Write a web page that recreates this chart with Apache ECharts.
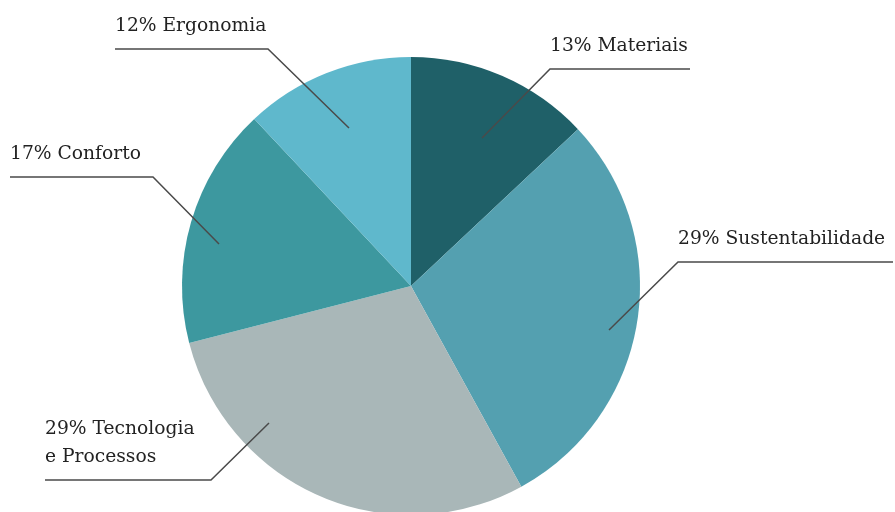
<!DOCTYPE html>
<html>
<head>
<meta charset="utf-8">
<script src="https://cdn.jsdelivr.net/npm/echarts@6/dist/echarts.min.js"></script>
<style>
  html, body { margin: 0; padding: 0; background: #ffffff; }
  #chart { width: 895px; height: 512px; }
</style>
</head>
<body>
<div id="chart"></div>
<script>
// Share of each theme, clockwise from 12 o'clock
const categories = ['Materiais', 'Sustentabilidade', 'Tecnologia\ne Processos', 'Conforto', 'Ergonomia'];
const shares = [13, 29, 29, 17, 12];
const sliceColors = ['#1f6068', '#54a0b0', '#a9b7b8', '#3d989f', '#5fb8cc'];

// Leader line geometry per slice: anchor inside the slice, elbow, and end of the
// horizontal rule the label sits on (pixels).
const leaderLines = [
  { anchor: [482, 138], elbow: [550, 69],  end: [690, 69] },
  { anchor: [609, 330], elbow: [678, 262], end: [893, 262] },
  { anchor: [269, 423], elbow: [211, 480], end: [45, 480] },
  { anchor: [219, 244], elbow: [153, 177], end: [10, 177] },
  { anchor: [349, 128], elbow: [268, 49],  end: [115, 49] }
];

const pieGeometry = {
  type: 'pie',
  center: [411, 286],
  radius: [0, 229],
  startAngle: 90,
  clockwise: true,
  avoidLabelOverlap: false,
  silent: true
};

const chart = echarts.init(document.getElementById('chart'), null, { renderer: 'canvas' });

chart.setOption({
  animation: false,
  backgroundColor: '#ffffff',
  series: [
    // Filled slices
    Object.assign({}, pieGeometry, {
      z: 1,
      data: categories.map((name, i) => ({
        name: name,
        value: shares[i],
        itemStyle: { color: sliceColors[i] }
      })),
      itemStyle: { borderWidth: 0 },
      label: { show: false },
      labelLine: { show: false }
    }),
    // Same slices, unfilled, carrying the labels so leader lines sit above the pie
    Object.assign({}, pieGeometry, {
      z: 3,
      data: categories.map((name, i) => ({ name: name, value: shares[i] })),
      itemStyle: { color: 'rgba(0,0,0,0)', borderWidth: 0 },
      label: {
        show: true,
        position: 'outside',
        formatter: p => p.value + '% ' + p.name,
        fontFamily: 'DejaVu Serif',
        fontSize: 18.7,
        lineHeight: 28,
        color: '#222222'
      },
      labelLine: {
        show: true,
        length: 10,
        length2: 10,
        lineStyle: { color: '#4a4a4a', width: 1.5 }
      },
      labelLayout: function (params) {
        const g = leaderLines[params.dataIndex];
        const left = Math.min(g.elbow[0], g.end[0]);
        const lines = String(params.text).split('\n').length;
        return {
          x: left,
          y: g.end[1] - 9 - lines * 14,
          align: 'left',
          verticalAlign: 'middle',
          labelLinePoints: [g.anchor.slice(), g.elbow.slice(), g.end.slice()]
        };
      }
    })
  ]
});
</script>
</body>
</html>
